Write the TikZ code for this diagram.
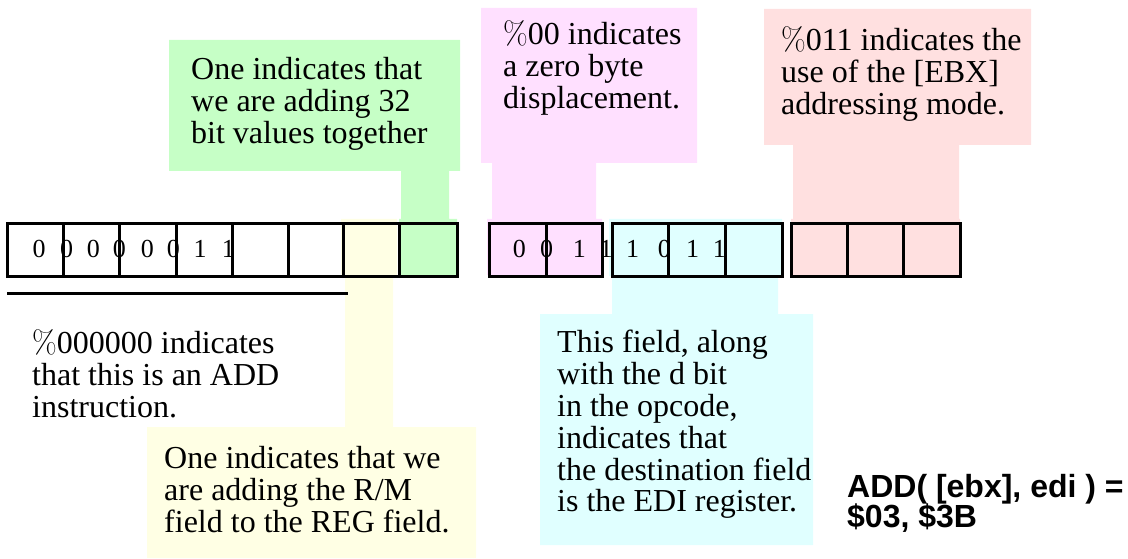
\documentclass[tikz,border=0pt]{standalone}
\usepackage{fontspec}
\setmainfont{Liberation Serif}
\newfontfamily\sansbold{Liberation Sans}
\newfontfamily\lmfont{Latin Modern Roman}
\newcommand\pct{{\lmfont\%}}
\newcommand\mlines[1]{\vtop{\baselineskip=32pt\lineskiplimit=-100pt\halign{##\hfil\cr#1\crcr}}}
\newcommand\mlinesB[1]{\vtop{\baselineskip=30pt\lineskiplimit=-100pt\halign{##\hfil\cr#1\crcr}}}
\definecolor{cgreen}{RGB}{198,255,198}
\definecolor{cpink}{RGB}{255,224,255}
\definecolor{csalmon}{RGB}{255,224,224}
\definecolor{ccyan}{RGB}{224,255,255}
\definecolor{cyellow}{RGB}{255,255,228}
\tikzset{
  note/.style={anchor=base west, inner sep=0pt, font=\fontsize{32}{32}\selectfont},
  bit/.style={anchor=base, inner sep=0pt, font=\fontsize{26}{26}\selectfont},
  cell/.style={draw=black, line width=3pt},
}
\begin{document}
\begin{tikzpicture}[x=1pt,y=-1pt]
\useasboundingbox (0,0) rectangle (1128,559);
% coloured callout regions
\fill[cgreen] (169,40) rectangle (460,171) (401,170) rectangle (449,220) (399,219) rectangle (457,276);
\fill[cpink] (481,8) rectangle (697,163) (492,162) rectangle (596,220) (487,219) rectangle (602,275);
\fill[csalmon] (764,9) rectangle (1031,145) (793,144) rectangle (959,220) (791,219) rectangle (960,276);
\fill[ccyan] (609,219) rectangle (782,276) (612,275) rectangle (778,315) (540,314) rectangle (813,545);
\fill[cyellow] (341,219) rectangle (397,276) (345,275) rectangle (393,428) (147,427) rectangle (476,558);
% first byte
\foreach \a/\b in {7/63,63/119,119/176,176/232,232/288,288/343,343/399,399/457}
  \draw[cell] (\a,223) rectangle (\b,276);
% second byte
\foreach \a/\b in {489/546,546/602,612/668,668/725,725/782,791/847,847/903,903/960}
  \draw[cell] (\a,223) rectangle (\b,276);
% bits
\foreach \x/\d [count=\i] in {39/0,66.7/0,93.3/0,119.3/0,147.3/0,173.3/0,200/1,228.3/1}
  \node[bit] (a\i) at (\x,257) {\d};
\foreach \x/\d [count=\i] in {519.3/0,546.7/0,579.3/1,606/1,632.7/1,664.3/0,692.7/1,719.3/1}
  \node[bit] (b\i) at (\x,258) {\d};
% underline of opcode field
\coordinate (ul1) at (7,293);
\coordinate (ul2) at (348,293);
\draw[line width=3pt] (ul1) -- (ul2);
% notes
\node[note] (green) at (191,80) {\mlines{One indicates that\cr we are adding 32\cr bit values together}};
\node[note] (pink) at (503,45) {\mlines{\pct00 indicates\cr a zero byte\cr displacement.}};
\node[note] (salmon) at (781,51) {\mlines{\pct011 indicates the\cr use of the [EBX]\cr addressing mode.}};
\node[note] (left) at (32,353) {\mlines{\pct000000 indicates\cr that this is an ADD\cr instruction.}};
\node[note] (yellow) at (164,468) {\mlines{One indicates that we\cr are adding the R/M\cr field to the REG field.}};
\node[note] (cyan) at (557,352) {\mlines{This field, along\cr with the d bit\cr in the opcode,\cr indicates that\cr the destination field\cr is the EDI register.}};
\node[anchor=base west, inner sep=0pt, font=\sansbold\bfseries\fontsize{32}{30}\selectfont] (add) at (847,497) {\mlinesB{ADD( [ebx], edi ) =\cr \$03, \$3B}};
\end{tikzpicture}
\end{document}
